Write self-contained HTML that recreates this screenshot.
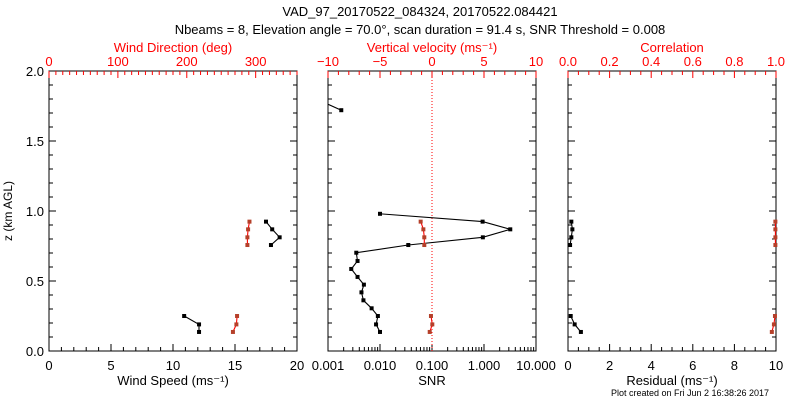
<!DOCTYPE html>
<html><head><meta charset="utf-8"><style>
body{margin:0;background:#fff;}
svg{display:block;font-family:"Liberation Sans",sans-serif;}
</style></head><body>
<svg id="c" width="800" height="400" xmlns="http://www.w3.org/2000/svg">
<defs><clipPath id="p2clip"><rect x="328" y="71" width="208" height="280"/></clipPath></defs>
<rect width="800" height="400" fill="#fff"/>
<text x="420" y="16" font-size="13" text-anchor="middle">VAD_97_20170522_084324, 20170522.084421</text>
<text x="420" y="34" font-size="13" text-anchor="middle">Nbeams = 8, Elevation angle = 70.0°, scan duration = 91.4 s, SNR Threshold = 0.008</text>
<text x="690" y="396" font-size="9" text-anchor="middle">Plot created on Fri Jun  2 16:38:26 2017</text>
</svg>
<script>
// data
const speedZ=[0.924,0.869,0.812,0.757,0.25,0.19,0.136];
const speedVals=[17.5,18.0,18.6,17.9,10.9,12.1,12.1];
const dirVals=[291,289,288,288,273,272,267];
const snrZ=[1.77,1.72,0.98,0.924,0.869,0.812,0.757,0.702,0.643,0.586,0.529,0.474,0.419,0.362,0.305,0.25,0.19,0.136];
const snrVals=[0.0009,0.0018,0.010,0.94,3.2,0.95,0.035,0.0035,0.0037,0.0028,0.0037,0.0049,0.0044,0.0048,0.0069,0.0091,0.0084,0.010];
const wZ=[0.924,0.869,0.812,0.757,0.25,0.19,0.136];
const wVals=[-1.09,-0.83,-0.74,-0.74,-0.1,0.03,-0.22];
const resVals=[0.16,0.21,0.16,0.10,0.13,0.32,0.62];
const corrVals=[0.997,0.997,0.997,0.997,0.995,0.99,0.98];
const zTicks=["0.0","0.5","1.0","1.5","2.0"];
const speedTicks=["0","5","10","15","20"];
const dirTicks=["0","100","200","300"];
const snrTicks=["0.001","0.010","0.100","1.000","10.000"];
const wTicks=["-10","-5","0","5","10"];
const resTicks=["0","2","4","6","8","10"];
const corrTicks=["0.0","0.2","0.4","0.6","0.8","1.0"];

const svg=document.getElementById('c');const NS='http://www.w3.org/2000/svg';
function el(t,a,p){const e=document.createElementNS(NS,t);for(const k in a)e.setAttribute(k,a[k]);(p||svg).appendChild(e);return e;}
const T=71,B=351;
const zy=z=>B-(z/2)*(B-T);
const P=[{l:49,r:297},{l:328,r:536},{l:568,r:776}];
function lin(p,a,b){return v=>p.l+(v-a)/(b-a)*(p.r-p.l);}
const xs=lin(P[0],0,20),xd=lin(P[0],0,360),xw=lin(P[1],-10,10),xr=lin(P[2],0,10),xc=lin(P[2],0,1);
const xsnr=v=>P[1].l+(Math.log10(v)+3)/4*(P[1].r-P[1].l);

function frame(p,name){
  const r=el('rect',{x:p.l,y:T,width:p.r-p.l,height:B-T,fill:'none',stroke:'#000','stroke-width':1});
  
  
  for(let i=0;i<=20;i++){const y=zy(i*0.1),len=i%5==0?7:4;
    el('line',{x1:p.l,x2:p.l+len,y1:y,y2:y,stroke:'#000'});
    el('line',{x1:p.r,x2:p.r-len,y1:y,y2:y,stroke:'#000'});}
}
function txt(x,y,s,col,size,anchor,name){const t=el('text',{x:x,y:y,fill:col,'font-size':size,'text-anchor':anchor||'middle'});t.textContent=s;
  
  return t;}
function linAxis(f,a,b,minor,labels,labStep,top,col){
  const y=top?T:B,d=top?1:-1;const n=Math.round((b-a)/minor);
  for(let i=0;i<=n;i++){const v=a+i*minor,x=f(v);const maj=Math.abs(v/labStep-Math.round(v/labStep))<1e-6;
    el('line',{x1:x,x2:x,y1:y,y2:y+d*(maj?7:4),stroke:col});}
  labels.forEach(s=>{const v=parseFloat(s);txt(f(v),top?66:370,s.replace('-','\u2212'),col,13,'middle',top?'top-tick-label':'bottom-tick-label');});
}
frame(P[0],'wind-panel');frame(P[1],'snr-panel');frame(P[2],'residual-panel');
zTicks.forEach(s=>txt(44,zy(parseFloat(s))+5,s,'#000',13,'end','z-tick-label'));
const yt=txt(12,211,'z (km AGL)','#000',12,'middle','y-axis-title');yt.setAttribute('transform','rotate(-90 12 211)');
linAxis(xs,0,20,1,speedTicks,5,false,'#000');
linAxis(xd,0,360,10,dirTicks,100,true,'#f00');
linAxis(xw,-10,10,1,wTicks,5,true,'#f00');
linAxis(xr,0,10,0.5,resTicks,2,false,'#000');
linAxis(xc,0,1,0.05,corrTicks,0.2,true,'#f00');
for(let e=-3;e<=1;e++){for(let m=1;m<=9;m++){const v=m*Math.pow(10,e);if(v>10)break;const x=xsnr(v);
  el('line',{x1:x,x2:x,y1:B,y2:B-(m==1?7:4),stroke:'#000'});}}
snrTicks.forEach(s=>txt(xsnr(parseFloat(s)),370,s,'#000',13,'middle','snr-tick-label'));
txt(173,52,'Wind Direction (deg)','#f00',13,'middle','wind-direction-title');
txt(432,52,'Vertical velocity (ms\u207B\u00B9)','#f00',13,'middle','vertical-velocity-title');
txt(672,52,'Correlation','#f00',13,'middle','correlation-title');
txt(173,385,'Wind Speed (ms\u207B\u00B9)','#000',13,'middle','wind-speed-title');
txt(432,385,'SNR','#000',13,'middle','snr-title');
txt(672,385,'Residual (ms\u207B\u00B9)','#000',13,'middle','residual-title');
const zl=el('line',{x1:xw(0),x2:xw(0),y1:T,y2:B,stroke:'#f00','stroke-dasharray':'1,2'});


function series(vals,zs,fx,line,mark,name,groups,clip){
  const g0=el('g',clip?{'clip-path':'url(#p2clip)'}:{});
  groups.forEach(g=>{const pts=g.map(i=>fx(vals[i]).toFixed(1)+','+zy(zs[i]).toFixed(1)).join(' ');
    const pl=el('polyline',{points:pts,fill:'none',stroke:line,'stroke-width':1.1},g0);
    
    
    g.forEach(i=>{const c=el('rect',{x:fx(vals[i])-2,y:zy(zs[i])-2,width:4,height:4,fill:mark},g0);
      
      });});
}
const g7=[[0,1,2,3],[4,5,6]];
series(speedVals,speedZ,xs,'#000','#000','wind-speed',g7);
series(dirVals,speedZ,xd,'#f00','#b5402a','wind-direction',g7);
const rest=[];for(let i=2;i<snrVals.length;i++)rest.push(i);
series(snrVals,snrZ,xsnr,'#000','#000','snr',[[0,1],rest],true);
series(wVals,wZ,xw,'#f00','#b5402a','vertical-velocity',g7);
series(resVals,wZ,xr,'#000','#000','residual',g7);
series(corrVals,wZ,xc,'#f00','#b5402a','correlation',g7);
</script>
</body></html>
